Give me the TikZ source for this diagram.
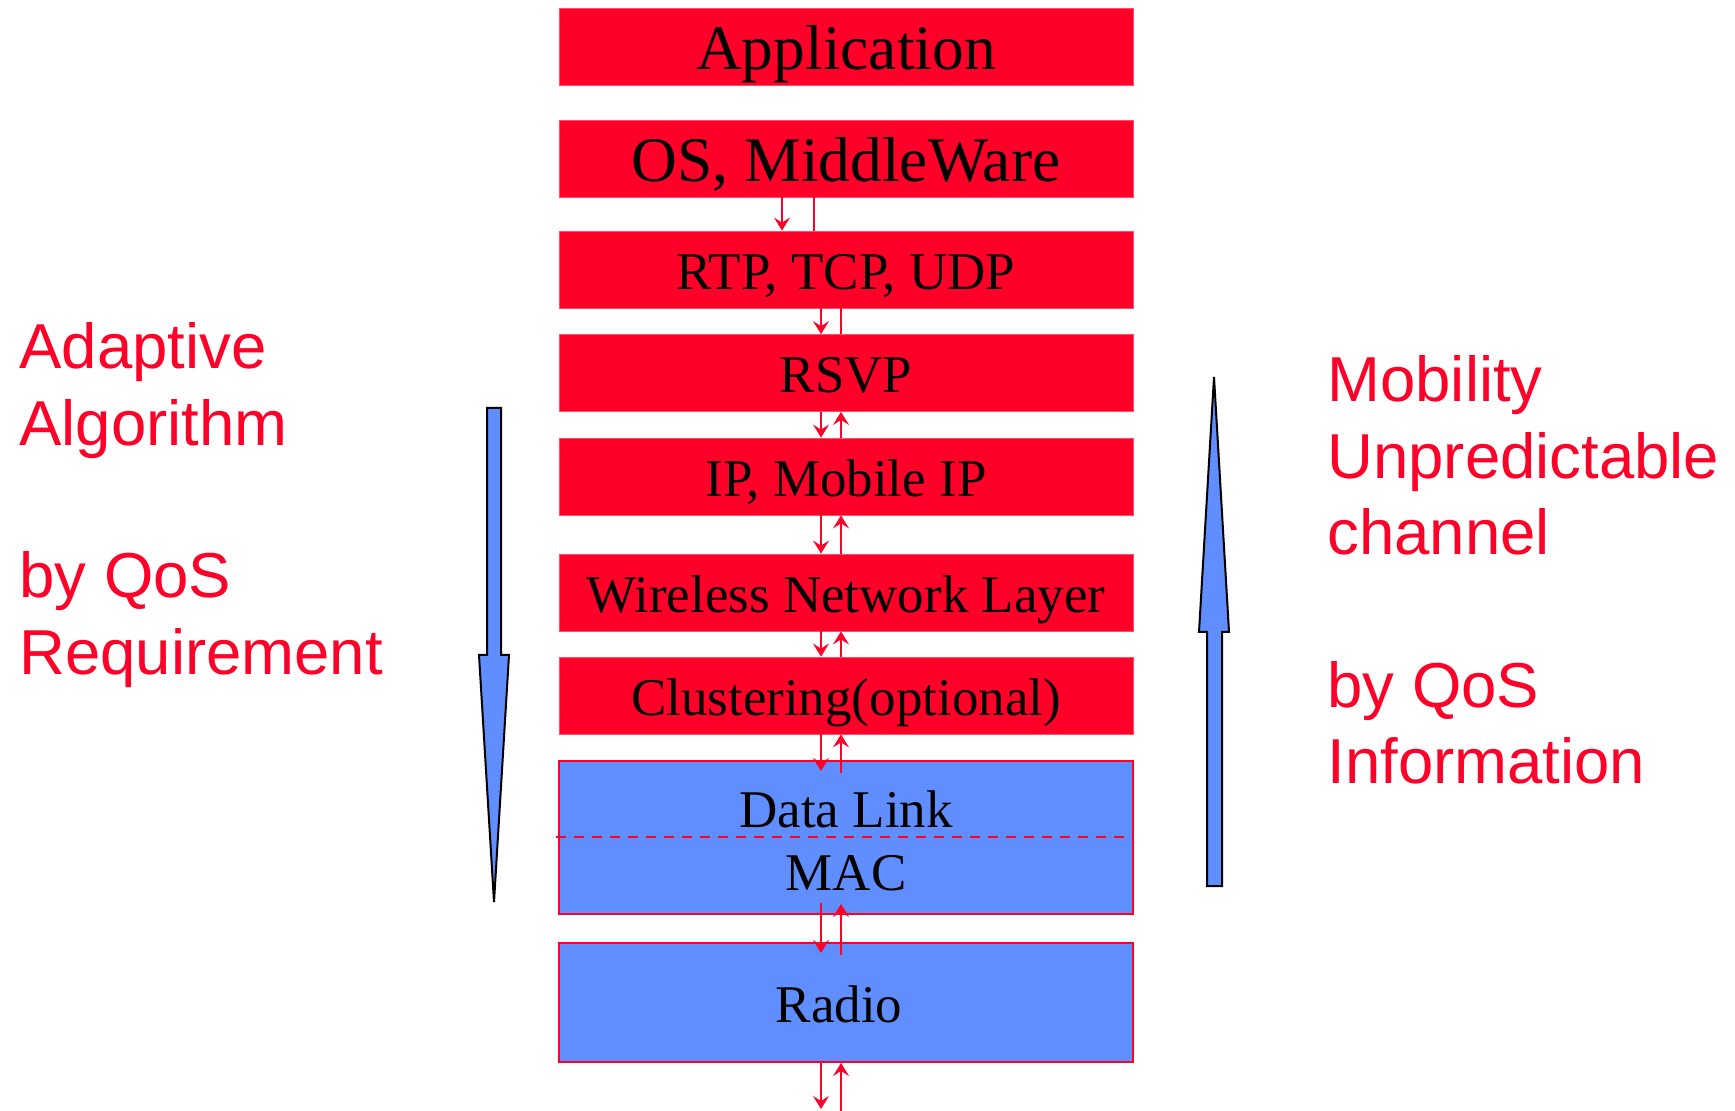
\documentclass[tikz,border=0pt]{standalone}
\usepackage{fontspec}
\setmainfont{Liberation Serif}
\newfontfamily\sidefont{Liberation Sans}
\usetikzlibrary{arrows.meta}
\definecolor{layerred}{RGB}{255,0,40}
\definecolor{layerblue}{RGB}{97,142,255}
\tikzset{
  layer/.style={fill=layerred, draw=layerred!70, line width=0.4pt, minimum width=287pt, minimum height=38.5pt, inner sep=0pt, text height=24.5pt, text depth=4.5pt, font=\fontsize{26.5}{30}\selectfont},
  biglayer/.style={layer, text height=28pt, font=\fontsize{31.75}{36}\selectfont},
  phylayer/.style={layer, fill=layerblue, draw=layerred, line width=1pt},
  flow/.style={draw=layerred, line width=1pt, -{Stealth[length=6.5pt, width=8pt, inset=2.5pt]}},
  pipe/.style={draw=layerred, line width=1pt},
  blockarrow/.style={fill=layerblue, draw=black, line width=1pt, line join=miter},
  sidetext/.style={text=layerred, font=\sidefont\fontsize{31.75}{38.15}\selectfont, align=left, inner sep=0pt}
}

\begin{document}
\begin{tikzpicture}[x=0.5pt, y=-0.5pt]
	%%%%% START %%%%%
	\useasboundingbox (0,0) rectangle (1735,1111);
	
	% protocol stack
	\node[biglayer] (app) at (846,46.5) {Application};
	\node[biglayer] (os) at (846,158.5) {OS, MiddleWare};
	\node[layer] (rtp) at (846,269.5) {RTP, TCP, UDP};
	\node[layer] (rsvp) at (846,373) {RSVP};
	\node[layer] (ip) at (846,476.5) {IP, Mobile IP};
	\node[layer] (wnl) at (846,592.5) {Wireless Network Layer};
	\node[layer] (clus) at (846,695.5) {Clustering(optional)};
	
	\node[phylayer, minimum height=76.5pt] (link) at (846,837.5) {};
	\draw[pipe, dash pattern=on 5pt off 4pt] ([xshift=-1pt]link.west) -- (link.east);
	\node[font=\fontsize{26.5}{30}\selectfont, inner sep=0pt] (datalink) at (846,809) {Data Link};
	\node[font=\fontsize{26.5}{30}\selectfont, inner sep=0pt] (mac) at (846,873) {MAC};
	
	\node[phylayer, minimum height=59.5pt] (radio) at (846,1002.5) {};
	\node[font=\fontsize{26.5}{30}\selectfont, inner sep=0pt] (radiotext) at (839,1004) {Radio};
	
	% up / down flows
	\coordinate (dnA) at (782,0);
	\coordinate (upA) at (814,0);
	\coordinate (dn) at (821,0);
	\coordinate (up) at (841,0);
	\coordinate (floor) at (846,1111);
	
	\draw[flow] (os.south -| dnA) -- (rtp.north -| dnA);
	\draw[pipe] (rtp.north -| upA) -- (os.south -| upA);
	\draw[flow] (rtp.south -| dn) -- (rsvp.north -| dn);
	\draw[pipe] (rsvp.north -| up) -- (rtp.south -| up);
	\foreach \a/\b in {rsvp/ip, ip/wnl, wnl/clus} {
		\draw[flow] (\a.south -| dn) -- (\b.north -| dn);
		\draw[flow] (\b.north -| up) -- (\a.south -| up);
	}
	\draw[flow, shorten >=-5.5pt] (clus.south -| dn) -- (link.north -| dn);
	\draw[flow, shorten <=-6.5pt] (link.north -| up) -- (clus.south -| up);
	\draw[flow, shorten <=-6pt, shorten >=-5.5pt] (link.south -| dn) -- (radio.north -| dn);
	\draw[flow, shorten <=-6.5pt, shorten >=-5.5pt] (radio.north -| up) -- (link.south -| up);
	\draw[flow, shorten <=-1pt, shorten >=1pt] (radio.south -| dn) -- (floor -| dn);
	\draw[flow] (floor -| up) -- (radio.south -| up);
	
	% adaptation arrows
	\draw[blockarrow] (487,408) -- (501,408) -- (501,655) -- (509,655) -- (494,902) -- (479,655) -- (487,655) -- cycle;
	\draw[blockarrow] (1207,886) -- (1222,886) -- (1222,632) -- (1229,632) -- (1214,377) -- (1199,632) -- (1207,632) -- cycle;
	
	\node[sidetext, anchor=west] (adaptive) at (19,505) {Adaptive\\Algorithm\\[38.15pt]by QoS\\Requirement};
	\node[sidetext, anchor=west] (mobility) at (1327,570) {Mobility\\Unpredictable\\channel\\[38.15pt]by QoS\\Information};
	
	%%%%% END %%%%%
\end{tikzpicture}
\end{document}
